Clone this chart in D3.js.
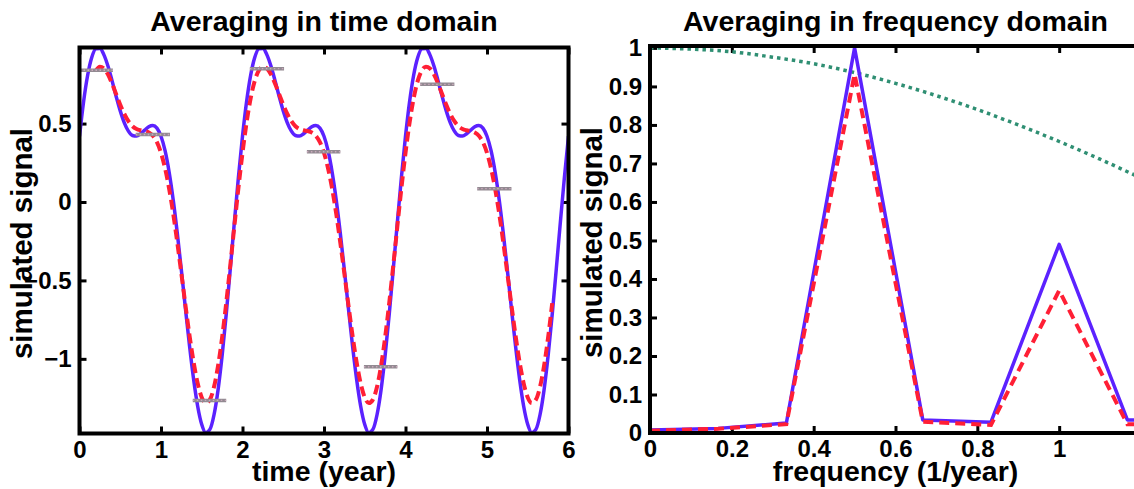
<!DOCTYPE html>
<html>
<head>
<meta charset="utf-8">
<script src="https://cdn.jsdelivr.net/npm/d3@7"></script>
<style>
  html, body { margin: 0; padding: 0; background: #fff; }
  svg { display: block; }
  text { font-family: Arial, "Liberation Sans", sans-serif; font-weight: bold; fill: #000; }
</style>
</head>
<body>
<svg id="chart" width="1134" height="489"></svg>
<script>
// ---------- time domain data (samples every 0.05 year) ----------
const sampleStep = 0.05;
const rawSignal = [
  0.419, 0.639, 0.808, 0.921, 0.976, 0.979, 0.938, 0.865, 0.772, 0.673,
  0.581, 0.505, 0.452, 0.424, 0.420, 0.435, 0.458, 0.480, 0.488, 0.471,
  0.419, 0.327, 0.190, 0.013, -0.199, -0.435, -0.680, -0.917, -1.130, -1.302,
  -1.419, -1.471, -1.450, -1.358, -1.198, -0.979, -0.717, -0.428, -0.130, 0.158,
  0.419, 0.639, 0.808, 0.921, 0.976, 0.979, 0.938, 0.865, 0.772, 0.673,
  0.581, 0.505, 0.452, 0.424, 0.420, 0.435, 0.458, 0.480, 0.488, 0.471,
  0.419, 0.327, 0.190, 0.013, -0.199, -0.435, -0.680, -0.917, -1.130, -1.302,
  -1.419, -1.471, -1.450, -1.358, -1.198, -0.979, -0.717, -0.428, -0.130, 0.158,
  0.419, 0.639, 0.808, 0.921, 0.976, 0.979, 0.938, 0.865, 0.772, 0.673,
  0.581, 0.505, 0.452, 0.424, 0.420, 0.435, 0.458, 0.480, 0.488, 0.471,
  0.419, 0.327, 0.190, 0.013, -0.199, -0.435, -0.680, -0.917, -1.130, -1.302,
  -1.419, -1.471, -1.450, -1.358, -1.198, -0.979, -0.717, -0.428, -0.130, 0.158,
  0.419
];
// running mean, defined from 0.2 to 5.8 years
const smoothStart = 0.2;
const smoothedSignal = [
  0.838, 0.863, 0.851, 0.812, 0.754, 0.687, 0.620, 0.561, 0.515, 0.483,
  0.465, 0.457, 0.452, 0.443, 0.422, 0.381, 0.313, 0.214, 0.084, -0.075,
  -0.259, -0.457, -0.658, -0.851, -1.021, -1.156, -1.246, -1.282, -1.260, -1.180,
  -1.045, -0.863, -0.645, -0.404, -0.155, 0.089,
  0.313, 0.506, 0.661, 0.772, 0.838, 0.863, 0.851, 0.812, 0.754, 0.687,
  0.620, 0.561, 0.515, 0.483, 0.465, 0.457, 0.452, 0.443, 0.422, 0.381,
  0.313, 0.214, 0.084, -0.075, -0.259, -0.457, -0.658, -0.851, -1.021, -1.156,
  -1.246, -1.282, -1.260, -1.180, -1.045, -0.863, -0.645, -0.404, -0.155, 0.089,
  0.313, 0.506, 0.661, 0.772, 0.838, 0.863, 0.851, 0.812, 0.754, 0.687,
  0.620, 0.561, 0.515, 0.483, 0.465, 0.457, 0.452, 0.443, 0.422, 0.381,
  0.313, 0.214, 0.084, -0.075, -0.259, -0.457, -0.658, -0.851, -1.021, -1.156,
  -1.246, -1.282, -1.260, -1.180, -1.045, -0.863, -0.645
];
// block averages: window start, window end, mean value
const blockStart = [0.00, 0.69, 1.39, 2.09, 2.79, 3.49, 4.18, 4.88];
const blockEnd   = [0.41, 1.11, 1.80, 2.51, 3.20, 3.90, 4.60, 5.30];
const blockMean  = [0.84, 0.43, -1.265, 0.85, 0.32, -1.05, 0.75, 0.085];
const timeTicks  = [0, 1, 2, 3, 4, 5, 6];
const signalTicks = [-1, -0.5, 0, 0.5];
const signalLimits = [-1.476, 0.985];

// ---------- frequency domain data ----------
const freqs = [0, 0.1667, 0.3333, 0.5, 0.6667, 0.8333, 1.0, 1.1667, 1.3333];
const rawSpectrum = [0.008, 0.012, 0.026, 1.0, 0.034, 0.028, 0.49, 0.034, 0.034];
const smoothedSpectrum = [0.006, 0.011, 0.023, 0.932, 0.029, 0.021, 0.37, 0.023, 0.022];
const responseFreqs = [0, 0.1, 0.2, 0.3, 0.4, 0.5, 0.6, 0.7, 0.8, 0.9, 1.0, 1.1, 1.2, 1.3];
const filterResponse = [1.0, 0.997, 0.990, 0.976, 0.959, 0.936, 0.908, 0.876, 0.840, 0.800, 0.757, 0.711, 0.662, 0.611];
const freqTicks = [0, 0.2, 0.4, 0.6, 0.8, 1.0];
const ampTicks = [0, 0.1, 0.2, 0.3, 0.4, 0.5, 0.6, 0.7, 0.8, 0.9, 1.0];
const freqLimits = [0, 1.2];
const ampLimits = [0, 1.005];

// ---------- styling ----------
const BLUE = "#5b22ff", RED = "#ff1f35", GREEN = "#2f8f73", GREY = "#938a92";
const TICK_LEN = 7;
const TICK_FONT = "24px";
const svg = d3.select("#chart");

function drawPanel(opts) {
  const { x, y, left, right, top, bottom, xTicks, yTicks, xFmt, yFmt, id, edgeTick } = opts;
  const g = svg.append("g");
  g.append("clipPath").attr("id", id).append("rect")
    .attr("x", left).attr("y", top).attr("width", right - left).attr("height", bottom - top);

  const styleAxis = (sel, col = "#000") => {
    sel.select(".domain").remove();
    sel.selectAll(".tick line").attr("stroke", col).attr("stroke-width", 3);
    sel.selectAll(".tick text").style("font-size", TICK_FONT)
      .style("font-family", "Arial, 'Liberation Sans', sans-serif").style("font-weight", "bold");
  };
  g.append("g").attr("transform", `translate(0,${bottom})`)
    .call(d3.axisBottom(x).tickValues(xTicks).tickFormat(xFmt).tickSize(-TICK_LEN).tickPadding(7))
    .call(styleAxis);
  g.append("g").attr("transform", `translate(0,${top})`)
    .call(d3.axisTop(x).tickValues(xTicks).tickFormat(() => "").tickSize(-TICK_LEN))
    .call(styleAxis);
  g.append("g").attr("transform", `translate(${left},0)`)
    .call(d3.axisLeft(y).tickValues(yTicks).tickFormat(yFmt).tickSize(-TICK_LEN).tickPadding(8))
    .call(styleAxis);
  g.append("g").attr("transform", `translate(${right},0)`)
    .call(d3.axisRight(y).tickValues(yTicks).tickFormat(() => "").tickSize(-TICK_LEN))
    .call(sel => styleAxis(sel, edgeTick || "#000"));
  return g;
}

// ================= left panel: time domain =================
const L = { left: 79.5, right: 568.5, top: 47.5, bottom: 433.5 };
const xT = d3.scaleLinear().domain([0, 6]).range([L.left, L.right]);
const yT = d3.scaleLinear().domain(signalLimits).range([L.bottom, L.top]);

const gL = drawPanel({ x: xT, y: yT, ...L, xTicks: timeTicks, yTicks: signalTicks,
  xFmt: d3.format("d"), yFmt: d3.format("~g"), id: "clipTime" });

const plotL = gL.append("g").attr("clip-path", "url(#clipTime)");
const lineT = d3.line().curve(d3.curveMonotoneX).x(d => xT(d[0])).y(d => yT(d[1]));

plotL.append("path")
  .attr("d", lineT(rawSignal.map((v, i) => [i * sampleStep, v])))
  .attr("fill", "none").attr("stroke", BLUE).attr("stroke-width", 3.5).attr("stroke-linejoin", "round");

plotL.append("path")
  .attr("d", lineT(smoothedSignal.map((v, i) => [smoothStart + i * sampleStep, v])))
  .attr("fill", "none").attr("stroke", RED).attr("stroke-width", 4).attr("stroke-dasharray", "10,5");

blockMean.forEach((v, i) => {
  const seg = d3.line().x(d => xT(d[0])).y(d => yT(d[1]))([[blockStart[i], v], [blockEnd[i], v]]);
  plotL.append("path").attr("d", seg).attr("stroke", GREY).attr("stroke-width", 3.5).attr("fill", "none");
  plotL.append("path").attr("d", seg).attr("stroke", "#c9aabb").attr("stroke-width", 1.4)
    .attr("stroke-dasharray", "1.5,2.5").attr("fill", "none");
});

gL.append("rect").attr("x", L.left).attr("y", L.top)
  .attr("width", L.right - L.left).attr("height", L.bottom - L.top)
  .attr("fill", "none").attr("stroke", "#000").attr("stroke-width", 4);

// ================= right panel: frequency domain =================
const R = { left: 650, right: 1141, top: 46, bottom: 433 };
const xF = d3.scaleLinear().domain(freqLimits).range([R.left, R.right]);
const yF = d3.scaleLinear().domain(ampLimits).range([R.bottom, R.top]);

const gR = drawPanel({ x: xF, y: yF, ...R, xTicks: freqTicks, yTicks: ampTicks,
  xFmt: d3.format("~g"), yFmt: d3.format("~g"), id: "clipFreq", edgeTick: "#b0b0b0" });

const plotR = gR.append("g").attr("clip-path", "url(#clipFreq)");
const lineF = d3.line().x(d => xF(d[0])).y(d => yF(d[1]));

plotR.append("path")
  .attr("d", d3.line().curve(d3.curveMonotoneX).x(d => xF(d[0])).y(d => yF(d[1]))(responseFreqs.map((f, i) => [f, filterResponse[i]])))
  .attr("fill", "none").attr("stroke", GREEN).attr("stroke-width", 3.5).attr("stroke-dasharray", "3.5,4");

plotR.append("path")
  .attr("d", lineF(freqs.map((f, i) => [f, rawSpectrum[i]])))
  .attr("fill", "none").attr("stroke", BLUE).attr("stroke-width", 3.5).attr("stroke-linejoin", "round");

plotR.append("path")
  .attr("d", lineF(freqs.map((f, i) => [f, smoothedSpectrum[i]])))
  .attr("fill", "none").attr("stroke", RED).attr("stroke-width", 4).attr("stroke-dasharray", "10,6");

gR.append("rect").attr("x", R.left).attr("y", R.top)
  .attr("width", R.right - R.left).attr("height", R.bottom - R.top)
  .attr("fill", "none").attr("stroke", "#000").attr("stroke-width", 4);

// ================= titles and axis labels =================
const labelFont = "28.5px";
[[L, "Averaging in time domain", "time (year)", 31.5],
 [R, "Averaging in frequency domain", "frequency (1/year)", 601.5]].forEach(([P, title, xlab, ylabX]) => {
  const cx = (P.left + P.right) / 2;
  svg.append("text").attr("x", cx).attr("y", 31).attr("text-anchor", "middle")
    .style("font-size", labelFont).text(title);
  svg.append("text").attr("x", cx).attr("y", 481).attr("text-anchor", "middle")
    .style("font-size", labelFont).text(xlab);
  svg.append("text").attr("transform", `translate(${ylabX},${(P.top + P.bottom) / 2 + 3}) rotate(-90)`)
    .attr("text-anchor", "middle").style("font-size", "29.5px").text("simulated signal");
});
</script>
</body>
</html>
